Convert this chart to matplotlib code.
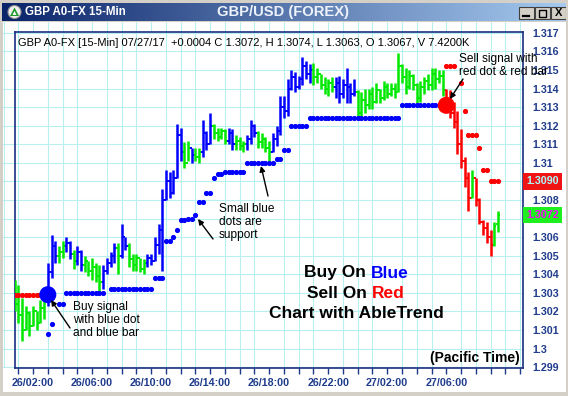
import numpy as np
import matplotlib.pyplot as plt
from matplotlib.colors import LinearSegmentedColormap
from matplotlib.patches import Rectangle, Circle, Polygon
from matplotlib.ticker import FixedLocator, FuncFormatter
import matplotlib.transforms as mtransforms

plt.rcParams['font.family'] = ['Liberation Sans', 'DejaVu Sans']

W, H = 568, 396

# 15-min bars, bar 0 = 26/02:00
first_bar = -5
highs = [1.3037, 1.3034, 1.3027, 1.3023, 1.3020, 1.3023, 1.3020, 1.3026, 1.3032,
         1.3046, 1.3061, 1.3058, 1.3055, 1.3058, 1.3060, 1.3058,
         1.3053, 1.3055, 1.3053, 1.3050, 1.3047, 1.3049, 1.3046, 1.3045,
         1.3045, 1.3049, 1.3052, 1.3057, 1.3057, 1.3067, 1.3060, 1.3057, 1.3051, 1.3051, 1.3049, 1.3048,
         1.3051, 1.3051, 1.3060, 1.3067, 1.3086, 1.3096, 1.3095, 1.3096, 1.3121, 1.3119, 1.3111, 1.3112, 1.3108, 1.3108, 1.3108,
         1.3123, 1.3117, 1.3127, 1.3121, 1.3119, 1.3119, 1.3118, 1.3119, 1.3118, 1.3115, 1.3114, 1.3112, 1.3115, 1.3123, 1.3121,
         1.3117, 1.3116, 1.3114, 1.3112, 1.3116, 1.3120,
         1.3136, 1.3136, 1.3145, 1.3150, 1.3149, 1.3147, 1.3157, 1.3155, 1.3153, 1.3154, 1.3151, 1.3148, 1.3146, 1.3145,
         1.3146, 1.3146, 1.3147, 1.3145, 1.3151, 1.3143, 1.3145,
         1.3139, 1.3138, 1.3140, 1.3140, 1.3141, 1.3143, 1.3140, 1.3144, 1.3143, 1.3143, 1.3143, 1.3159, 1.3153, 1.3151,
         1.3150, 1.3148, 1.3143, 1.3144, 1.3146, 1.3148, 1.3151, 1.3151, 1.3150, 1.3150,
         1.3140, 1.3139, 1.3133, 1.3128, 1.3118, 1.3103, 1.3095, 1.3096, 1.3092, 1.3081, 1.3069, 1.3068, 1.3064, 1.3068, 1.3074]
lows = [1.3020, 1.3014, 1.3004, 1.3010, 1.3007, 1.3012, 1.3010, 1.3014, 1.3016,
        1.3023, 1.3038, 1.3046, 1.3046, 1.3049, 1.3052, 1.3048,
        1.3043, 1.3045, 1.3042, 1.3041, 1.3039, 1.3037, 1.3036, 1.3031,
        1.3032, 1.3040, 1.3044, 1.3046, 1.3040, 1.3049, 1.3053, 1.3044, 1.3042, 1.3042, 1.3041, 1.3040,
        1.3044, 1.3045, 1.3047, 1.3051, 1.3042, 1.3080, 1.3081, 1.3083, 1.3092, 1.3101, 1.3097, 1.3101, 1.3100, 1.3101, 1.3100,
        1.3103, 1.3107, 1.3110, 1.3113, 1.3112, 1.3113, 1.3110, 1.3110, 1.3107, 1.3107, 1.3107, 1.3106, 1.3107, 1.3110, 1.3114,
        1.3108, 1.3108, 1.3106, 1.3101, 1.3106, 1.3109,
        1.3115, 1.3124, 1.3125, 1.3139, 1.3138, 1.3140, 1.3142, 1.3145, 1.3143, 1.3142, 1.3143, 1.3140, 1.3137, 1.3136,
        1.3138, 1.3135, 1.3132, 1.3135, 1.3132, 1.3132, 1.3136,
        1.3123, 1.3125, 1.3127, 1.3129, 1.3129, 1.3132, 1.3132, 1.3134, 1.3135, 1.3136, 1.3135, 1.3138, 1.3143, 1.3137,
        1.3140, 1.3139, 1.3132, 1.3133, 1.3137, 1.3139, 1.3139, 1.3140, 1.3143, 1.3136,
        1.3128, 1.3124, 1.3119, 1.3105, 1.3097, 1.3087, 1.3074, 1.3081, 1.3077, 1.3067, 1.3061, 1.3057, 1.3050, 1.3055, 1.3063]
opens = [1.3034, 1.3024, 1.3018, 1.3010, 1.3019, 1.3012, 1.3020, 1.3014, 1.3022,
         1.3028, 1.3041, 1.3055, 1.3050, 1.3052, 1.3055, 1.3057,
         1.3051, 1.3047, 1.3052, 1.3045, 1.3047, 1.3042, 1.3044, 1.3039,
         1.3036, 1.3042, 1.3046, 1.3050, 1.3054, 1.3050, 1.3060, 1.3055, 1.3048, 1.3045, 1.3049, 1.3043,
         1.3046, 1.3049, 1.3047, 1.3056, 1.3064, 1.3080, 1.3090, 1.3084, 1.3092, 1.3115, 1.3106, 1.3100, 1.3108, 1.3104, 1.3103,
         1.3106, 1.3116, 1.3110, 1.3120, 1.3116, 1.3114, 1.3117, 1.3112, 1.3116, 1.3110, 1.3112, 1.3109, 1.3110, 1.3113, 1.3120,
         1.3116, 1.3111, 1.3113, 1.3108, 1.3106, 1.3113,
         1.3117, 1.3130, 1.3128, 1.3140, 1.3146, 1.3141, 1.3145, 1.3152, 1.3148, 1.3150, 1.3146, 1.3148, 1.3142, 1.3140,
         1.3143, 1.3141, 1.3143, 1.3137, 1.3142, 1.3141, 1.3137,
         1.3138, 1.3127, 1.3134, 1.3131, 1.3137, 1.3133, 1.3139, 1.3135, 1.3141, 1.3137, 1.3140, 1.3138, 1.3152, 1.3146,
         1.3141, 1.3147, 1.3142, 1.3135, 1.3141, 1.3144, 1.3142, 1.3148, 1.3145, 1.3147,
         1.3139, 1.3130, 1.3127, 1.3122, 1.3110, 1.3101, 1.3092, 1.3081, 1.3092, 1.3080, 1.3068, 1.3065, 1.3060, 1.3056, 1.3067]
closes = [1.3024, 1.3018, 1.3010, 1.3019, 1.3012, 1.3020, 1.3014, 1.3022, 1.3028,
          1.3041, 1.3055, 1.3050, 1.3052, 1.3055, 1.3057, 1.3051,
          1.3047, 1.3052, 1.3045, 1.3047, 1.3042, 1.3044, 1.3039, 1.3036,
          1.3042, 1.3046, 1.3050, 1.3054, 1.3050, 1.3060, 1.3055, 1.3048, 1.3045, 1.3049, 1.3043, 1.3046,
          1.3049, 1.3047, 1.3056, 1.3064, 1.3080, 1.3090, 1.3084, 1.3092, 1.3115, 1.3106, 1.3100, 1.3108, 1.3104, 1.3103, 1.3106,
          1.3116, 1.3110, 1.3120, 1.3116, 1.3114, 1.3117, 1.3112, 1.3116, 1.3110, 1.3112, 1.3109, 1.3110, 1.3113, 1.3120, 1.3116,
          1.3111, 1.3113, 1.3108, 1.3106, 1.3113, 1.3117,
          1.3130, 1.3128, 1.3140, 1.3146, 1.3141, 1.3145, 1.3152, 1.3148, 1.3150, 1.3146, 1.3148, 1.3142, 1.3140, 1.3143,
          1.3141, 1.3143, 1.3137, 1.3142, 1.3141, 1.3137, 1.3138,
          1.3127, 1.3134, 1.3131, 1.3137, 1.3133, 1.3139, 1.3135, 1.3141, 1.3137, 1.3140, 1.3138, 1.3152, 1.3146, 1.3141,
          1.3147, 1.3142, 1.3135, 1.3141, 1.3144, 1.3142, 1.3148, 1.3145, 1.3147, 1.3139,
          1.3130, 1.3127, 1.3122, 1.3110, 1.3101, 1.3092, 1.3081, 1.3092, 1.3080, 1.3068, 1.3065, 1.3060, 1.3056, 1.3066, 1.3072]
bar_colors = ("ggggggggg" "bbb" "gg" "bb" "g" "bb" "ggggg" "bbbb" "g" "bb" "ggggg" "bbbbbbbbbb"
              "gg" "b" "gg" "bbb" "gggg" "bb" "ggg" "bbb" "gggg" "bbbbbbbbbbb" "gggggg" "bbbbbb"
              "gggggggggggggggggggggggg" "rrrrrrr" "g" "rrrrr" "gg")

N = None
# AbleTrend stop dots (blue = support, red = resistance)
support = ([N] * 9 + [1.3008, 1.3013, N, 1.3024, 1.3024] + [1.3030] * 11 + [N] + [1.3032] * 12
           + [1.3038] * 3 + [1.3058, 1.3058, 1.3060, 1.3064, 1.3069, 1.3069, 1.3070, 1.3070, 1.3072,
                             1.3079, 1.3079, 1.3084, 1.3084, 1.3092, 1.3094, 1.3094]
           + [1.3095] * 6 + [1.3100] * 8 + [1.3102, 1.3102, 1.3107, 1.3107] + [1.3120] * 5
           + [1.3124] * 25 + [1.3131] * 12 + [N] * 15)
resist = ([1.3029] * 9 + [N] * 108 + [1.3152] * 3 + [N, 1.3143, 1.3128] + [1.3115] * 3
          + [1.3108, 1.3096, 1.3096] + [1.3090] * 3)

signal_bars = [4, 112]
signal_prices = [1.3029, 1.3131]
signal_colors = ['#0000ff', '#ff0000']

tick_bars = [0, 16, 32, 48, 64, 80, 96, 112]
tick_labels = ['26/02:00', '26/06:00', '26/10:00', '26/14:00',
               '26/18:00', '26/22:00', '27/02:00', '27/06:00']
price_ticks = np.arange(1299, 1318) / 1000

bars = np.arange(first_bar, first_bar + len(highs))
col_map = {'g': '#00e800', 'b': '#0000ff', 'r': '#ff0000'}
cols = [col_map[c] for c in bar_colors]

GRID = '#b8f0f0'
NAVY = '#1f3c8c'
XL = (-4.9, 132.8)
YL = (1.29895, 1.31705)

fig = plt.figure(figsize=(W / 100, H / 100), dpi=100, facecolor='#d4d0c8')


def px_axes(x0, y0, x1, y1, **kw):
    return fig.add_axes([x0 / W, 1 - y1 / H, (x1 - x0) / W, (y1 - y0) / H], **kw)


# title bar
tb = px_axes(2, 3, 566, 21)
tb.imshow(np.linspace(0, 1, 256)[None, :], aspect='auto', extent=[2, 566, 21, 3],
          cmap=LinearSegmentedColormap.from_list('tb', ['#0a246a', '#a6caf0']))
tb.set_xlim(2, 566)
tb.set_ylim(21, 3)
tb.axis('off')
tb.add_patch(Circle((14.5, 12), 6.5, fc='#f0f0f0', ec='#909090', lw=0.8))
tb.add_patch(Polygon([(10, 16), (14.5, 7.5), (19, 16)], fc='#1d9a2a', ec='none'))
tb.add_patch(Polygon([(12.5, 15), (14.5, 11), (16.5, 15)], fc='white', ec='none'))
tb.text(25, 12.3, 'GBP A0-FX 15-Min', color='white', fontsize=8.3, fontweight='bold',
        va='center', ha='left')
tb.text(283, 12, 'GBP/USD (FOREX)', color='#eef2fa', fontsize=10.6, fontweight='bold',
        va='center', ha='center')
for bx in (519, 535, 551):
    tb.add_patch(Rectangle((bx, 7), 15, 12, fc='#d4d0c8', ec='#404040', lw=0.8))
tb.plot([523, 529], [16, 16], color='black', lw=1.6)
tb.add_patch(Rectangle((539, 9.5), 7, 7, fc='none', ec='black', lw=1.0))
tb.text(558.5, 13.3, 'X', fontsize=8, fontweight='bold', ha='center', va='center')

# white chart panel
panel = px_axes(3, 22, 566, 392)
panel.set_facecolor('white')
panel.set_xticks([])
panel.set_yticks([])
for s in panel.spines.values():
    s.set_visible(False)

# grid that runs past the box on top and left
bg = px_axes(3, 22, 523, 368)
bg.patch.set_alpha(0)
bg.set_xlim(XL[0] - 12 / 3.689, XL[1])
bg.set_ylim(YL[0], YL[1] + 10 * (YL[1] - YL[0]) / 336)
bg.set_xticks(np.arange(-8, 133, 4))
bg.set_yticks(price_ticks)
bg.grid(True, color=GRID, lw=0.8)
bg.tick_params(length=0, labelleft=False, labelbottom=False)
for s in bg.spines.values():
    s.set_visible(False)

ax = px_axes(15, 32, 523, 368)
ax.set_facecolor('white')
ax.set_xlim(*XL)
ax.set_ylim(*YL)
ax.xaxis.set_major_locator(FixedLocator(tick_bars))
ax.xaxis.set_minor_locator(FixedLocator(np.arange(-4, 133, 4)))
ax.set_xticklabels(tick_labels)
ax.set_yticks(price_ticks)

# price labels hidden under the last-stop / last-close boxes are left blank
boxed = [resist[-1], closes[-1]]


def price_fmt(v, p):
    if any(abs(v - b) < 0.0004 for b in boxed):
        return ''
    return f"{v:.3f}".rstrip('0')


ax.yaxis.set_major_formatter(FuncFormatter(price_fmt))
ax.yaxis.tick_right()
ax.grid(True, which='minor', axis='x', color=GRID, lw=0.8)
ax.grid(True, which='major', axis='y', color=GRID, lw=0.8)
ax.set_axisbelow(True)
ax.tick_params(axis='x', which='both', direction='out', length=4, width=1, color=NAVY,
               pad=3.5, labelsize=7.7, labelcolor=NAVY)
ax.tick_params(axis='y', length=0, pad=6.5, labelsize=7.7, labelcolor=NAVY)
for lab in ax.get_xticklabels() + ax.get_yticklabels():
    lab.set_fontweight('bold')
for s in ax.spines.values():
    s.set_color('#1b2f80')
    s.set_linewidth(1.2)

# OHLC bars
ax.vlines(bars, lows, highs, colors=cols, lw=1.8, zorder=3)
ax.hlines(opens, bars - 0.6, bars, colors=cols, lw=1.4, zorder=3)
ax.hlines(closes, bars, bars + 0.6, colors=cols, lw=1.4, zorder=3)


def draw_dots(vals, color):
    run = []
    for b, v in list(zip(bars, vals)) + [(None, None)]:
        if run and (v is None or v != run[-1][1]):
            xs, ys = zip(*run)
            ax.plot(xs, ys, color=color, marker='o', ms=2.7, lw=1.0, zorder=4)
            run = []
        if v is not None:
            run.append((b, v))


draw_dots(support, '#0000ff')
draw_dots(resist, '#ff0000')
ax.scatter(signal_bars, signal_prices, s=150, c=signal_colors, zorder=5, linewidths=0)


def apx(px, py):
    return ((px - 15) / 508, (368 - py) / 336)


ax.text(*apx(18, 43), 'GBP A0-FX [15-Min] 07/27/17  +0.0004 C 1.3072, H 1.3074, L 1.3063, '
        'O 1.3067, V 7.4200K', transform=ax.transAxes, fontsize=8, va='center', ha='left')

note = dict(fontsize=8.6, va='center', ha='left', linespacing=1.1, transform=ax.transAxes,
            zorder=6, clip_on=False)
arrow = dict(arrowstyle='-|>', color='black', lw=1.0, mutation_scale=8, shrinkA=0, shrinkB=0)
ax.text(*apx(459, 65.5), 'Sell signal with\nred dot & red bar', **note)
ax.annotate('', xy=apx(450, 99), xytext=apx(463, 79), xycoords='axes fraction',
            textcoords='axes fraction', arrowprops=arrow, zorder=6)
ax.text(*apx(219, 222), 'Small blue\ndots are\nsupport', **note)
ax.annotate('', xy=apx(198, 219), xytext=apx(213, 239), xycoords='axes fraction',
            textcoords='axes fraction', arrowprops=arrow, zorder=6)
ax.annotate('', xy=apx(261, 166), xytext=apx(268, 196), xycoords='axes fraction',
            textcoords='axes fraction', arrowprops=arrow, zorder=6)
ax.text(*apx(73, 320), 'Buy signal\nwith blue dot\nand blue bar', **note)
ax.annotate('', xy=apx(51, 300), xytext=apx(70, 328), xycoords='axes fraction',
            textcoords='axes fraction', arrowprops=arrow, zorder=6)

big = dict(fontsize=12.5, fontweight='bold', va='center', transform=ax.transAxes, zorder=6)
renderer = fig.canvas.get_renderer()


def two_tone(py, left, right, right_color):
    cx, cy = apx(356, py)
    full = ax.text(cx, cy, left + ' ' + right, ha='center', **big)
    bb = full.get_window_extent(renderer=renderer)
    full.remove()
    x0 = ax.transAxes.inverted().transform((bb.x0, 0))[0]
    x1 = ax.transAxes.inverted().transform((bb.x1, 0))[0]
    ax.text(x0, cy, left, ha='left', color='black', **big)
    ax.text(x1, cy, right, ha='right', color=right_color, **big)


two_tone(273, 'Buy On', 'Blue', '#0000ff')
two_tone(294, 'Sell On', 'Red', '#ff0000')
ax.text(*apx(356, 314), 'Chart with AbleTrend', ha='center', color='black', **big)
ax.text(*apx(520, 358), '(Pacific Time)', transform=ax.transAxes, fontsize=10,
        fontweight='bold', ha='right', va='center', zorder=6)

# last stop and last close boxes on the price scale
trans = mtransforms.blended_transform_factory(ax.transAxes, ax.transData)
ax.text(1 + 3.5 / 508, resist[-1], f"{resist[-1]:.4f}", transform=trans, ha='left',
        va='center', color='#a8ffff', fontsize=7.7, fontweight='bold', clip_on=False, zorder=10,
        bbox=dict(boxstyle='square,pad=0.3', fc='#f01414', ec='none'))
ax.text(1 + 3.5 / 508, closes[-1], f"{closes[-1]:.4f}", transform=trans, ha='left',
        va='center', color='#ff00ff', fontsize=7.7, fontweight='bold', clip_on=False, zorder=10,
        bbox=dict(boxstyle='square,pad=0.3', fc='#1eef1e', ec='none'))

fig.savefig('out.png', dpi=100, facecolor=fig.get_facecolor())
